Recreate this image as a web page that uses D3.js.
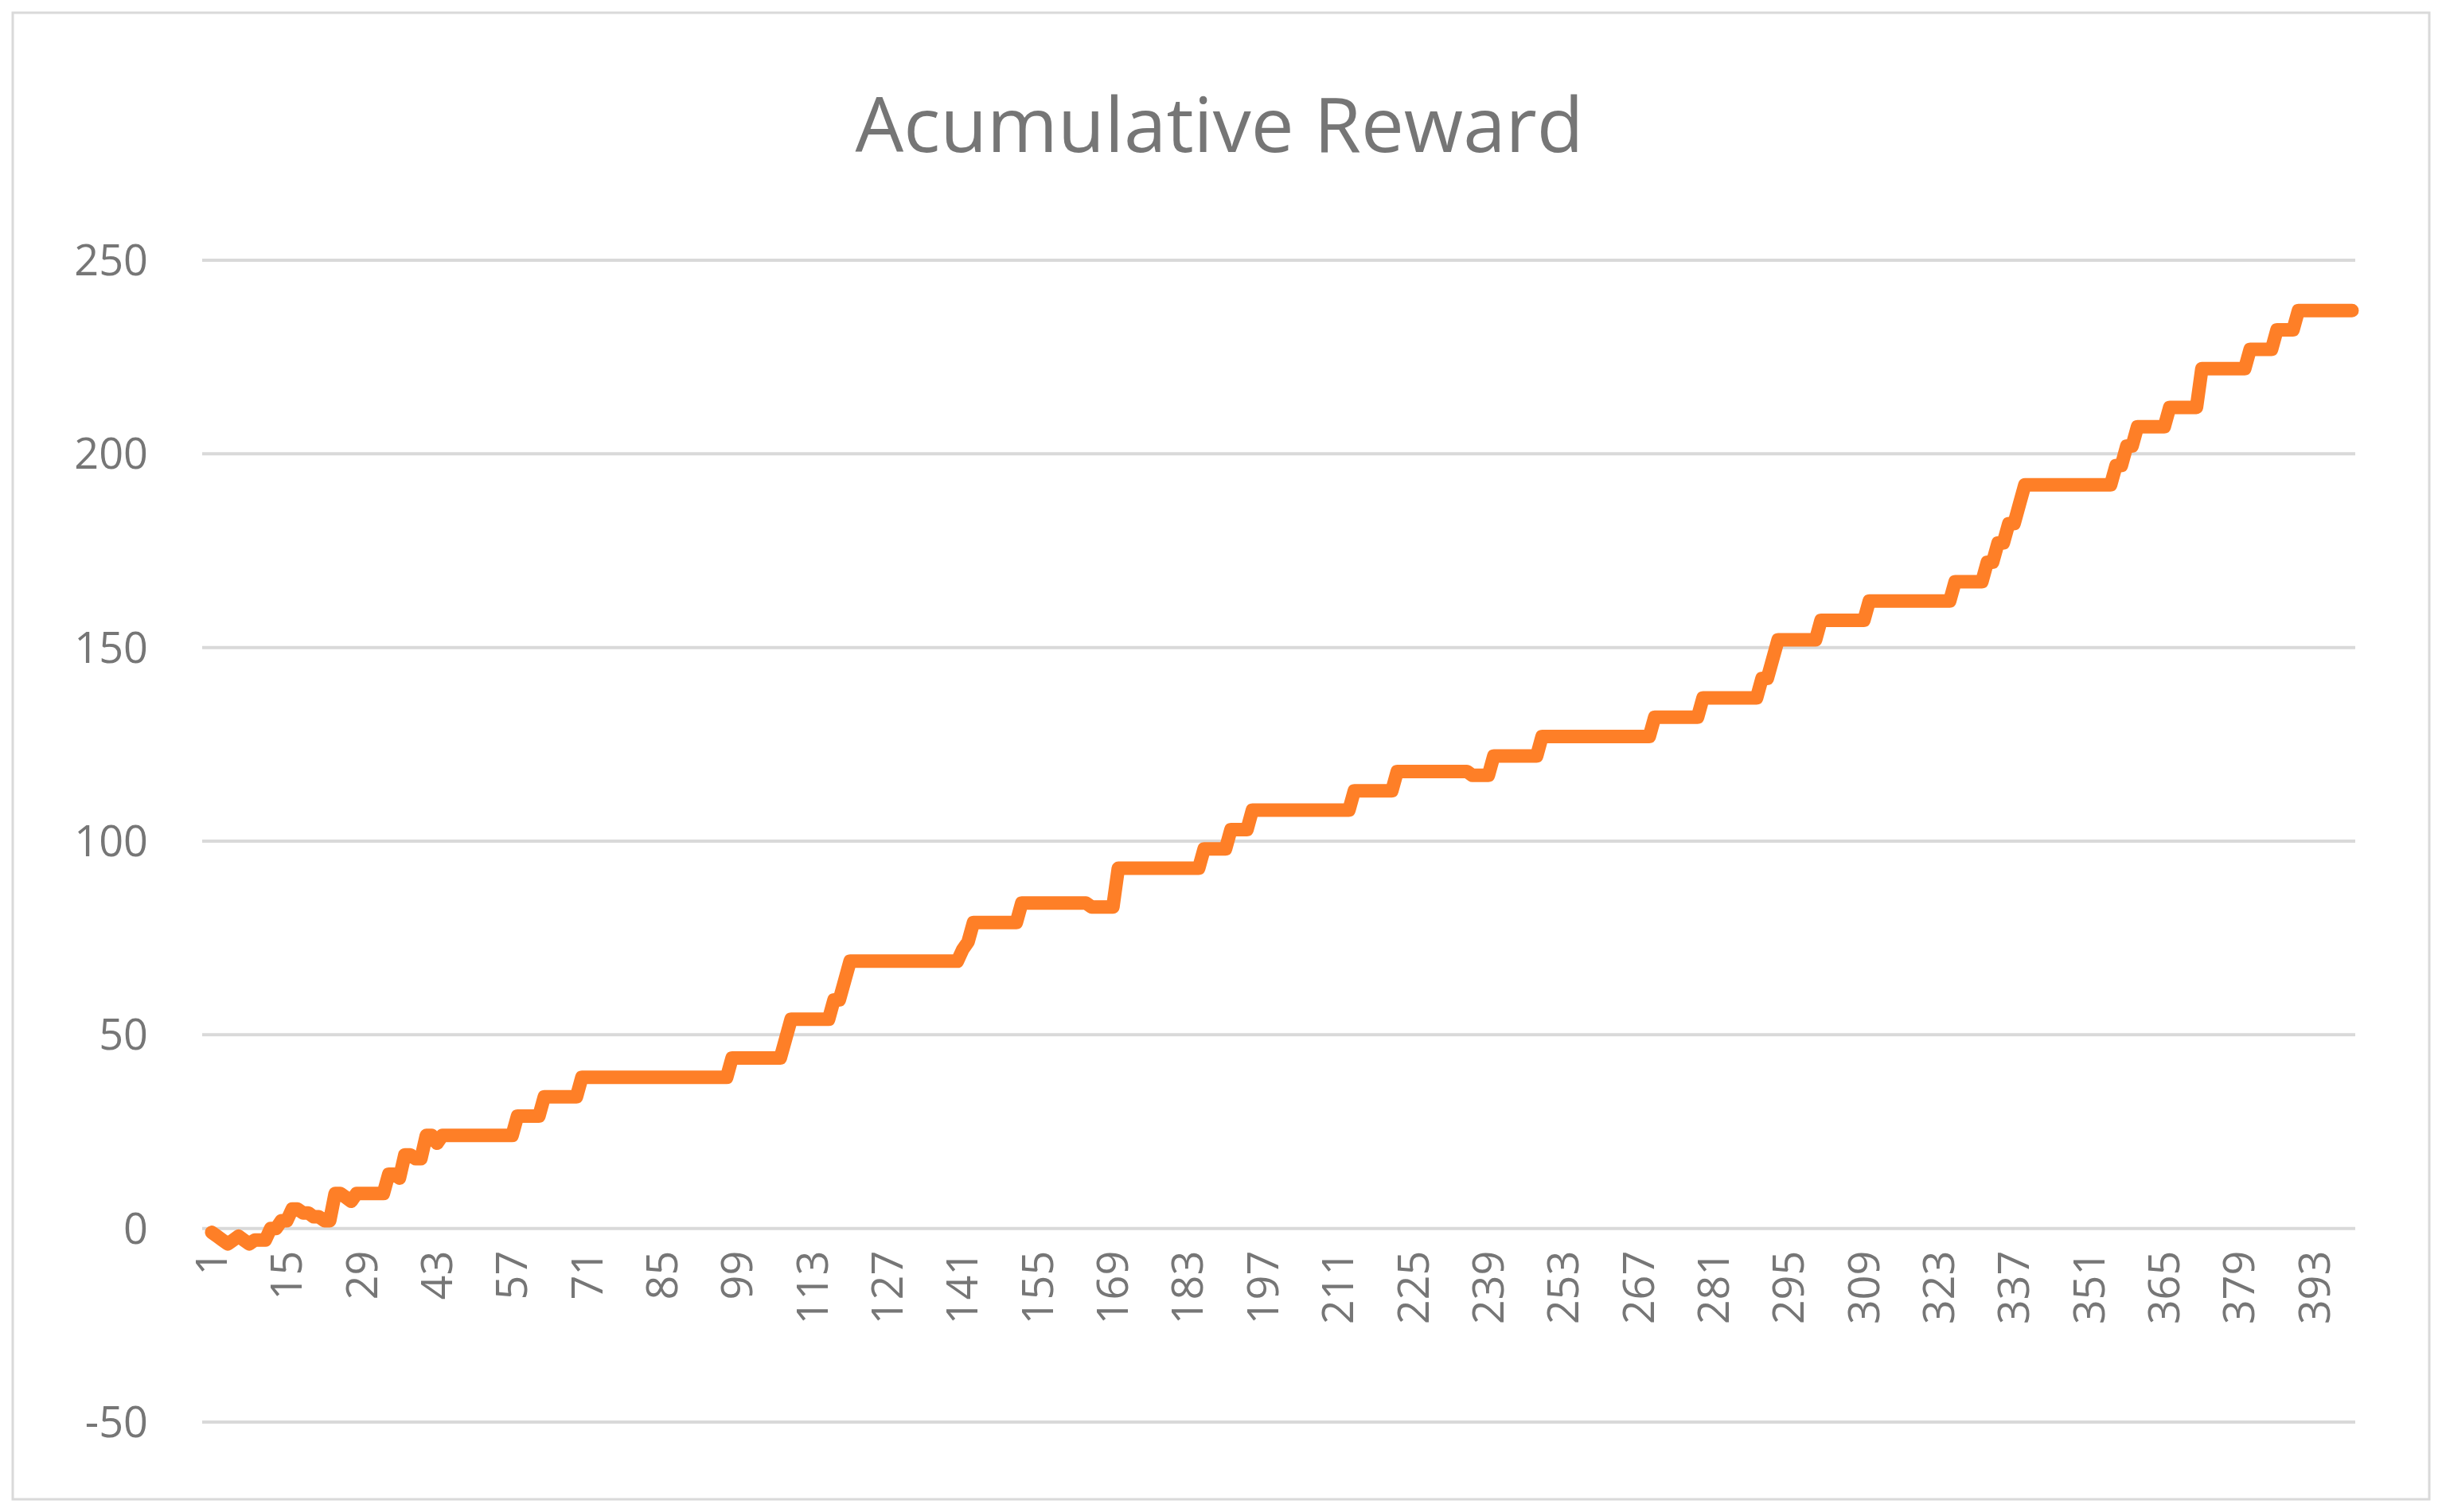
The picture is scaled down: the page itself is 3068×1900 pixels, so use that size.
<!DOCTYPE html>
<html><head><meta charset="utf-8">
<script src="https://cdn.jsdelivr.net/npm/d3@7"></script>
<style>body{margin:0;background:#fff}</style></head>
<body><svg id="c" width="3068" height="1900"></svg>
<script>
const title = "Acumulative Reward";
const stepEpisodes = [1,2,3,4,5,6,7,8,9,10,12,14,16,18,20,22,24,26,27,28,33,34,36,37,39,41,43,44,57,58,62,63,69,70,97,98,108,109,116,117,119,120,140,141,142,143,151,152,164,165,169,170,185,186,190,191,194,195,213,214,221,222,234,236,238,239,240,248,249,269,270,278,279,289,290,292,293,300,301,309,310,325,326,331,332,334,336,338,339,355,356,358,360,365,366,370,372,380,381,385,386,389,390];
const stepValues   = [-1,-2,-3,-4,-3,-2,-3,-4,-3,-3,0,2,5,4,3,2,9,8,7,9,9,14,13,19,18,24,22,24,24,29,29,34,34,39,39,44,49,54,54,59,64,69,69,72,74,79,79,84,84,83,83,93,93,98,98,103,103,108,108,113,113,118,118,117,117,117,122,122,127,127,132,132,137,137,142,147,152,152,157,157,162,162,167,167,172,177,182,187,192,192,197,202,207,207,212,212,222,222,227,227,232,232,237];
const nEpisodes = 400;
const yTicks = [-50,0,50,100,150,200,250];
const xTickEpisodes = d3.range(1, nEpisodes+1, 14);

// expand step list into per-episode series (hold value between listed episodes)
const data = [];
let k = 0;
for (let e = 1; e <= nEpisodes; e++) {
  while (k+1 < stepEpisodes.length && stepEpisodes[k+1] <= e) k++;
  data.push({e, v: stepValues[k]});
}

const svg = d3.select("#c");
svg.append("rect").attr("x",16).attr("y",16).attr("width",3036).attr("height",1868)
  .attr("fill","#fff").attr("stroke","#d9d9d9").attr("stroke-width",3);

const x = d3.scaleLinear().domain([1, nEpisodes]).range([266, 2955]);
const y = d3.scaleLinear().domain([-50, 250]).range([1787, 327]);
const txt = "#767676", font = "Open Sans, Liberation Sans, sans-serif";

svg.append("g").selectAll("line").data(yTicks).join("line")
  .attr("x1",254).attr("x2",2959).attr("y1",d=>y(d)).attr("y2",d=>y(d))
  .attr("stroke","#d9d9d9").attr("stroke-width",4);

svg.append("g").selectAll("text").data(yTicks).join("text")
  .attr("x",186).attr("y",d=>y(d)).attr("dy","0.35em").attr("text-anchor","end")
  .attr("font-family",font).attr("font-size",54).attr("fill",txt).text(d=>d);

svg.append("g").selectAll("text").data(xTickEpisodes).join("text")
  .attr("transform",d=>`translate(${x(d)},${y(0)+28}) rotate(-90)`)
  .attr("dy","0.35em").attr("text-anchor","end")
  .attr("font-family",font).attr("font-size",54).attr("fill",txt).text(d=>d);

svg.append("path").datum(data)
  .attr("fill","none").attr("stroke","#fe7f27").attr("stroke-width",17)
  .attr("stroke-linejoin","round").attr("stroke-linecap","round")
  .attr("d", d3.line().x(d=>x(d.e)).y(d=>y(d.v)));

svg.append("text").attr("x",1532).attr("y",157).attr("dy","0.35em").attr("text-anchor","middle")
  .attr("font-family",font).attr("font-size",96).attr("fill",txt).text(title);
</script></body></html>
